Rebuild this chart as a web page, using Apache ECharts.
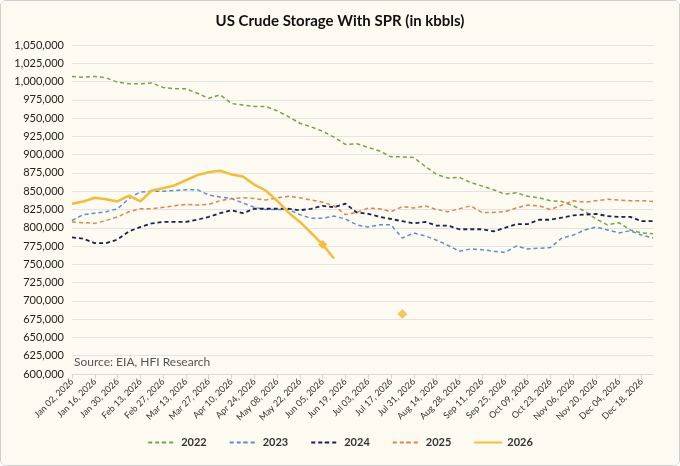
<!DOCTYPE html>
<html lang="en">
<head>
    <meta charset="UTF-8">
    <title>US Crude Storage With SPR</title>
    <script src="https://cdn.jsdelivr.net/npm/echarts@6/dist/echarts.min.js"></script>
    <style>
        html, body { margin: 0; padding: 0; background: #fff; }
        #main { width: 678px; height: 464px; border: 1px solid #cfcfcf; border-radius: 6px; overflow: hidden; }
    </style>
</head>
<body>
    <div id="main"></div>
    <script>
        var weeks = ['Jan 02, 2026', 'Jan 09, 2026', 'Jan 16, 2026', 'Jan 23, 2026', 'Jan 30, 2026', 'Feb 06, 2026', 'Feb 13, 2026',
            'Feb 20, 2026', 'Feb 27, 2026', 'Mar 06, 2026', 'Mar 13, 2026', 'Mar 20, 2026', 'Mar 27, 2026', 'Apr 03, 2026',
            'Apr 10, 2026', 'Apr 17, 2026', 'Apr 24, 2026', 'May 01, 2026', 'May 08, 2026', 'May 15, 2026', 'May 22, 2026',
            'May 29, 2026', 'Jun 05, 2026', 'Jun 12, 2026', 'Jun 19, 2026', 'Jun 26, 2026', 'Jul 03, 2026', 'Jul 10, 2026',
            'Jul 17, 2026', 'Jul 24, 2026', 'Jul 31, 2026', 'Aug 07, 2026', 'Aug 14, 2026', 'Aug 21, 2026', 'Aug 28, 2026',
            'Sep 04, 2026', 'Sep 11, 2026', 'Sep 18, 2026', 'Sep 25, 2026', 'Oct 02, 2026', 'Oct 09, 2026', 'Oct 16, 2026',
            'Oct 23, 2026', 'Oct 30, 2026', 'Nov 06, 2026', 'Nov 13, 2026', 'Nov 20, 2026', 'Nov 27, 2026', 'Dec 04, 2026',
            'Dec 11, 2026', 'Dec 18, 2026', 'Dec 25, 2026'];

        // kbbls, thousands
        var y2022 = [1007, 1006, 1007, 1005, 999, 997, 997, 998, 992, 990, 990, 984, 977, 982, 970, 968, 966, 966, 960, 952,
            943, 938, 932, 924, 914, 915, 910, 905, 897, 897, 896, 884, 873, 868, 869, 862, 857, 852, 846, 848,
            843, 841, 837, 836, 830, 823, 812, 804, 807, 797, 793, 792];
        var y2023 = [810, 818, 820, 822, 826, 840, 849, 850, 850, 851, 852, 852, 845, 842, 840, 834, 828, 825, 825, 825,
            818, 813, 813, 816, 812, 804, 801, 804, 804, 786, 793, 789, 783, 776, 768, 771, 770, 768, 766, 775,
            771, 772, 773, 786, 790, 797, 801, 797, 793, 796, 790, 786];
        var y2024 = [787, 785, 779, 779, 784, 795, 801, 806, 808, 808, 808, 811, 815, 820, 824, 820, 826, 826, 826, 826,
            824, 826, 830, 828, 833, 821, 819, 815, 812, 809, 806, 808, 803, 803, 798, 798, 798, 795, 800, 805,
            805, 811, 811, 814, 817, 818, 819, 816, 815, 815, 809, 809];
        var y2025 = [808, 807, 806, 810, 815, 822, 826, 826, 828, 830, 832, 831, 832, 837, 840, 841, 840, 838, 841, 843,
            841, 838, 835, 830, 818, 821, 827, 826, 822, 829, 827, 830, 825, 822, 826, 830, 821, 821, 822, 827,
            831, 830, 825, 831, 837, 835, 837, 839, 838, 837, 837, 836];
        var y2026 = [833, 836, 841, 839, 836, 844, 836, 851, 854, 858, 865, 872, 876, 878, 873, 870, 859, 851, 837, 821,
            808, 793, 777, 758];
        var markIdx = 22;
        var spotIdx = 29, spotVal = 682;

        function k(arr) {
            return arr.map(function (v) { return v == null ? null : v * 1000; });
        }

        var d2026 = k(y2026).map(function (v, i) {
            return i === markIdx ? { value: v, symbol: 'diamond', symbolSize: 9 } : v;
        });

        function dashed(name, data, color, width) {
            return {
                name: name, type: 'line', data: k(data), symbol: 'none',
                lineStyle: { color: color, width: width || 1.5, type: [4, 3] },
                itemStyle: { color: color }
            };
        }

        var myChart = echarts.init(document.getElementById('main'));
        myChart.setOption({
            backgroundColor: '#fdfaf2',
            animation: false,
            title: {
                text: 'US Crude Storage With SPR (in kbbls)',
                left: 'center', top: 8,
                textStyle: { fontFamily: 'Lato', fontSize: 15, fontWeight: 'bold', color: '#111' }
            },
            legend: {
                bottom: 12, left: 'center', itemWidth: 28, itemHeight: 2, itemGap: 22,
                textStyle: { fontFamily: 'Lato', fontSize: 11, fontWeight: 'bold', color: '#333' },
                data: ['2022', '2023', '2024', '2025', '2026']
            },
            grid: { left: 71, right: 26, top: 44, bottom: 91 },
            graphic: [{
                type: 'text', left: 73, top: 355,
                style: { text: 'Source: EIA, HFI Research', font: '12px Lato', fill: '#555' }
            }],
            xAxis: {
                type: 'category', data: weeks, boundaryGap: false,
                axisLine: { lineStyle: { color: '#d9d9d9' } },
                axisTick: { show: true, interval: 1, lineStyle: { color: '#d9d9d9' } },
                axisLabel: { interval: 1, rotate: 45, fontFamily: 'Lato', fontSize: 9, color: '#333', margin: 6 }
            },
            yAxis: {
                type: 'value', min: 600000, max: 1050000, interval: 25000,
                axisLine: { show: false }, axisTick: { show: false },
                splitLine: { lineStyle: { color: '#e4e4e4' } },
                axisLabel: {
                    fontFamily: 'Lato', fontSize: 11, color: '#222',
                    formatter: function (v) { return v.toLocaleString('en-US'); }
                }
            },
            series: [
                dashed('2022', y2022, '#70a845'),
                dashed('2023', y2023, '#5b8fd0'),
                dashed('2024', y2024, '#1a2350', 1.8),
                dashed('2025', y2025, '#e0834a'),
                {
                    name: '2026', type: 'line', data: d2026, symbol: 'none',
                    lineStyle: { color: '#f2bd3a', width: 2.5 }, itemStyle: { color: '#f2bd3a' }
                },
                {
                    name: 'spot', type: 'scatter', data: [[weeks[spotIdx], spotVal * 1000]],
                    symbol: 'diamond', symbolSize: 10, itemStyle: { color: '#f2bd3a' }
                }
            ]
        });
    </script>
</body>
</html>
